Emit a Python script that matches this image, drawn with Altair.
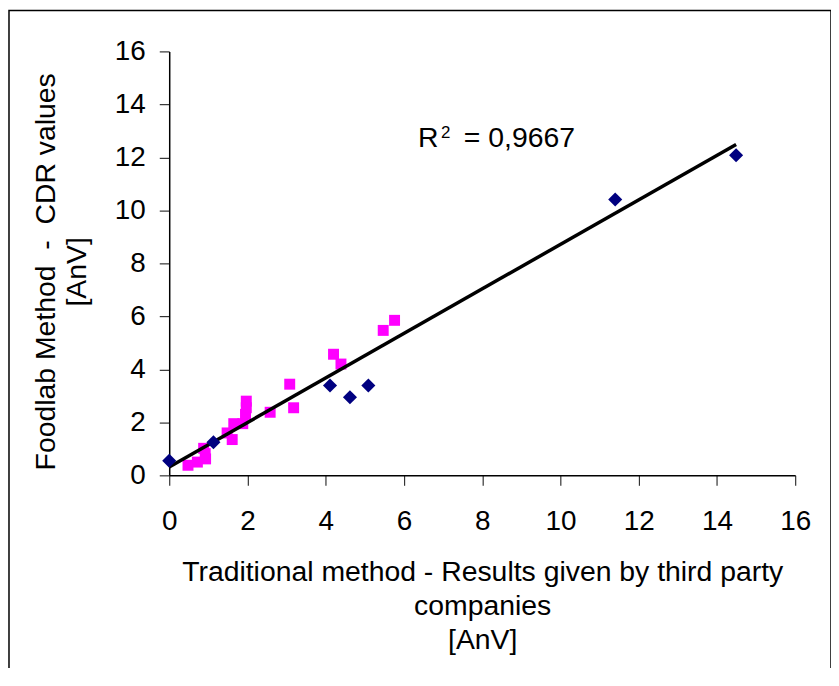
import altair as alt
import pandas as pd

# Series
blue_x = [0.0, 1.13, 4.11, 4.62, 5.09, 11.40, 14.49]
blue_y = [0.55, 1.25, 3.39, 2.95, 3.39, 10.41, 12.08]

pink_x = [0.48, 0.72, 0.93, 0.88, 0.92, 1.48, 1.61, 1.65, 1.88, 1.95, 1.97, 1.97,
          2.58, 3.08, 3.18, 4.20, 4.39, 5.47, 5.76]
pink_y = [0.38, 0.50, 0.62, 1.02, 0.82, 1.60, 1.35, 1.95, 1.95, 2.30, 2.55, 2.80,
          2.38, 3.44, 2.55, 4.57, 4.20, 5.47, 5.85]

axis_ticks = [0, 2, 4, 6, 8, 10, 12, 14, 16]
# R² annotation: anchor in data units, pieces "R", superscript "2", "= 0,9667"
r2_pieces = ["R", "2", "= 0,9667"]
r2_pos_x = [6.36, 6.36, 6.36]
r2_pos_y = [12.39, 12.39, 12.39]

x_title = ["Traditional method - Results given by third party", "companies", "[AnV]"]
y_title = ["Foodlab Method \u00a0-\u00a0 CDR values", "[AnV]"]

FONT = "Liberation Sans"
FS = 28
TFS = 28.5

blue = pd.DataFrame({"x": blue_x, "y": blue_y})
pink = pd.DataFrame({"x": pink_x, "y": pink_y})
both = pd.concat([blue, pink], ignore_index=True)
ann = pd.DataFrame({"x": r2_pos_x, "y": r2_pos_y, "t": r2_pieces})

xscale = alt.Scale(domain=[0, 16], nice=False, zero=False)
yscale = alt.Scale(domain=[0, 16], nice=False, zero=False)

xaxis = alt.Axis(values=axis_ticks, grid=False, title=x_title,
                 titleX=314.5, titleY=106, titleAlign="center",
                 titleBaseline="alphabetic", titleLineHeight=34,
                 labelPadding=22, tickSize=10)
yaxis = alt.Axis(values=axis_ticks, grid=False, title=y_title,
                 titleX=-115, titleY=221, titleAlign="center",
                 titleBaseline="alphabetic", titleLineHeight=31,
                 labelPadding=14, tickSize=10)

frame = alt.Chart(ann.head(1)).mark_rect(filled=False, stroke="black", strokeWidth=1.5).encode(
    x=alt.value(-161), x2=alt.value(665), y=alt.value(-41), y2=alt.value(720)
)

trend = alt.Chart(both).transform_regression(
    "x", "y", extent=[0, 14.49]
).mark_line(color="black", strokeWidth=3.5).encode(
    x=alt.X("x:Q", scale=xscale, axis=xaxis),
    y=alt.Y("y:Q", scale=yscale, axis=yaxis),
)

pink_pts = alt.Chart(pink).mark_point(shape="square", filled=True, color="#FF00FF",
                                      opacity=1, size=121).encode(
    x=alt.X("x:Q", scale=xscale), y=alt.Y("y:Q", scale=yscale)
)

blue_pts = alt.Chart(blue).mark_point(shape="diamond", filled=True, color="#000080",
                                      opacity=1, size=200).encode(
    x=alt.X("x:Q", scale=xscale), y=alt.Y("y:Q", scale=yscale)
)

base_text = alt.Chart(ann)
t_r = base_text.transform_filter(alt.datum.t == "R").mark_text(
    align="left", baseline="alphabetic", font=FONT, fontSize=TFS, color="black"
).encode(x=alt.X("x:Q", scale=xscale), y=alt.Y("y:Q", scale=yscale), text="t:N")
t_sup = base_text.transform_filter(alt.datum.t == "2").mark_text(
    align="left", baseline="alphabetic", font=FONT, fontSize=17, color="black", dx=23, dy=-9
).encode(x=alt.X("x:Q", scale=xscale), y=alt.Y("y:Q", scale=yscale), text="t:N")
t_val = base_text.transform_filter(alt.datum.t == "= 0,9667").mark_text(
    align="left", baseline="alphabetic", font=FONT, fontSize=TFS, color="black", dx=46
).encode(x=alt.X("x:Q", scale=xscale), y=alt.Y("y:Q", scale=yscale), text="t:N")

chart = alt.layer(frame, pink_pts, trend, blue_pts, t_r, t_sup, t_val).properties(
    width=629, height=426,
    autosize=alt.AutoSizeParams(type="none"),
    padding={"left": 162, "top": 42, "right": 36, "bottom": 192},
).configure_view(stroke=None).configure_axis(
    labelFont=FONT, titleFont=FONT, labelFontSize=FS, titleFontSize=TFS,
    titleFontWeight="normal", labelColor="black", titleColor="black",
    domainColor="black", domainWidth=1.5, tickColor="#333333", tickWidth=1.2,
    labelFlush=False, labelOverlap=False,
)

chart.save("out.html", embed_options={"renderer": "svg", "actions": False})
